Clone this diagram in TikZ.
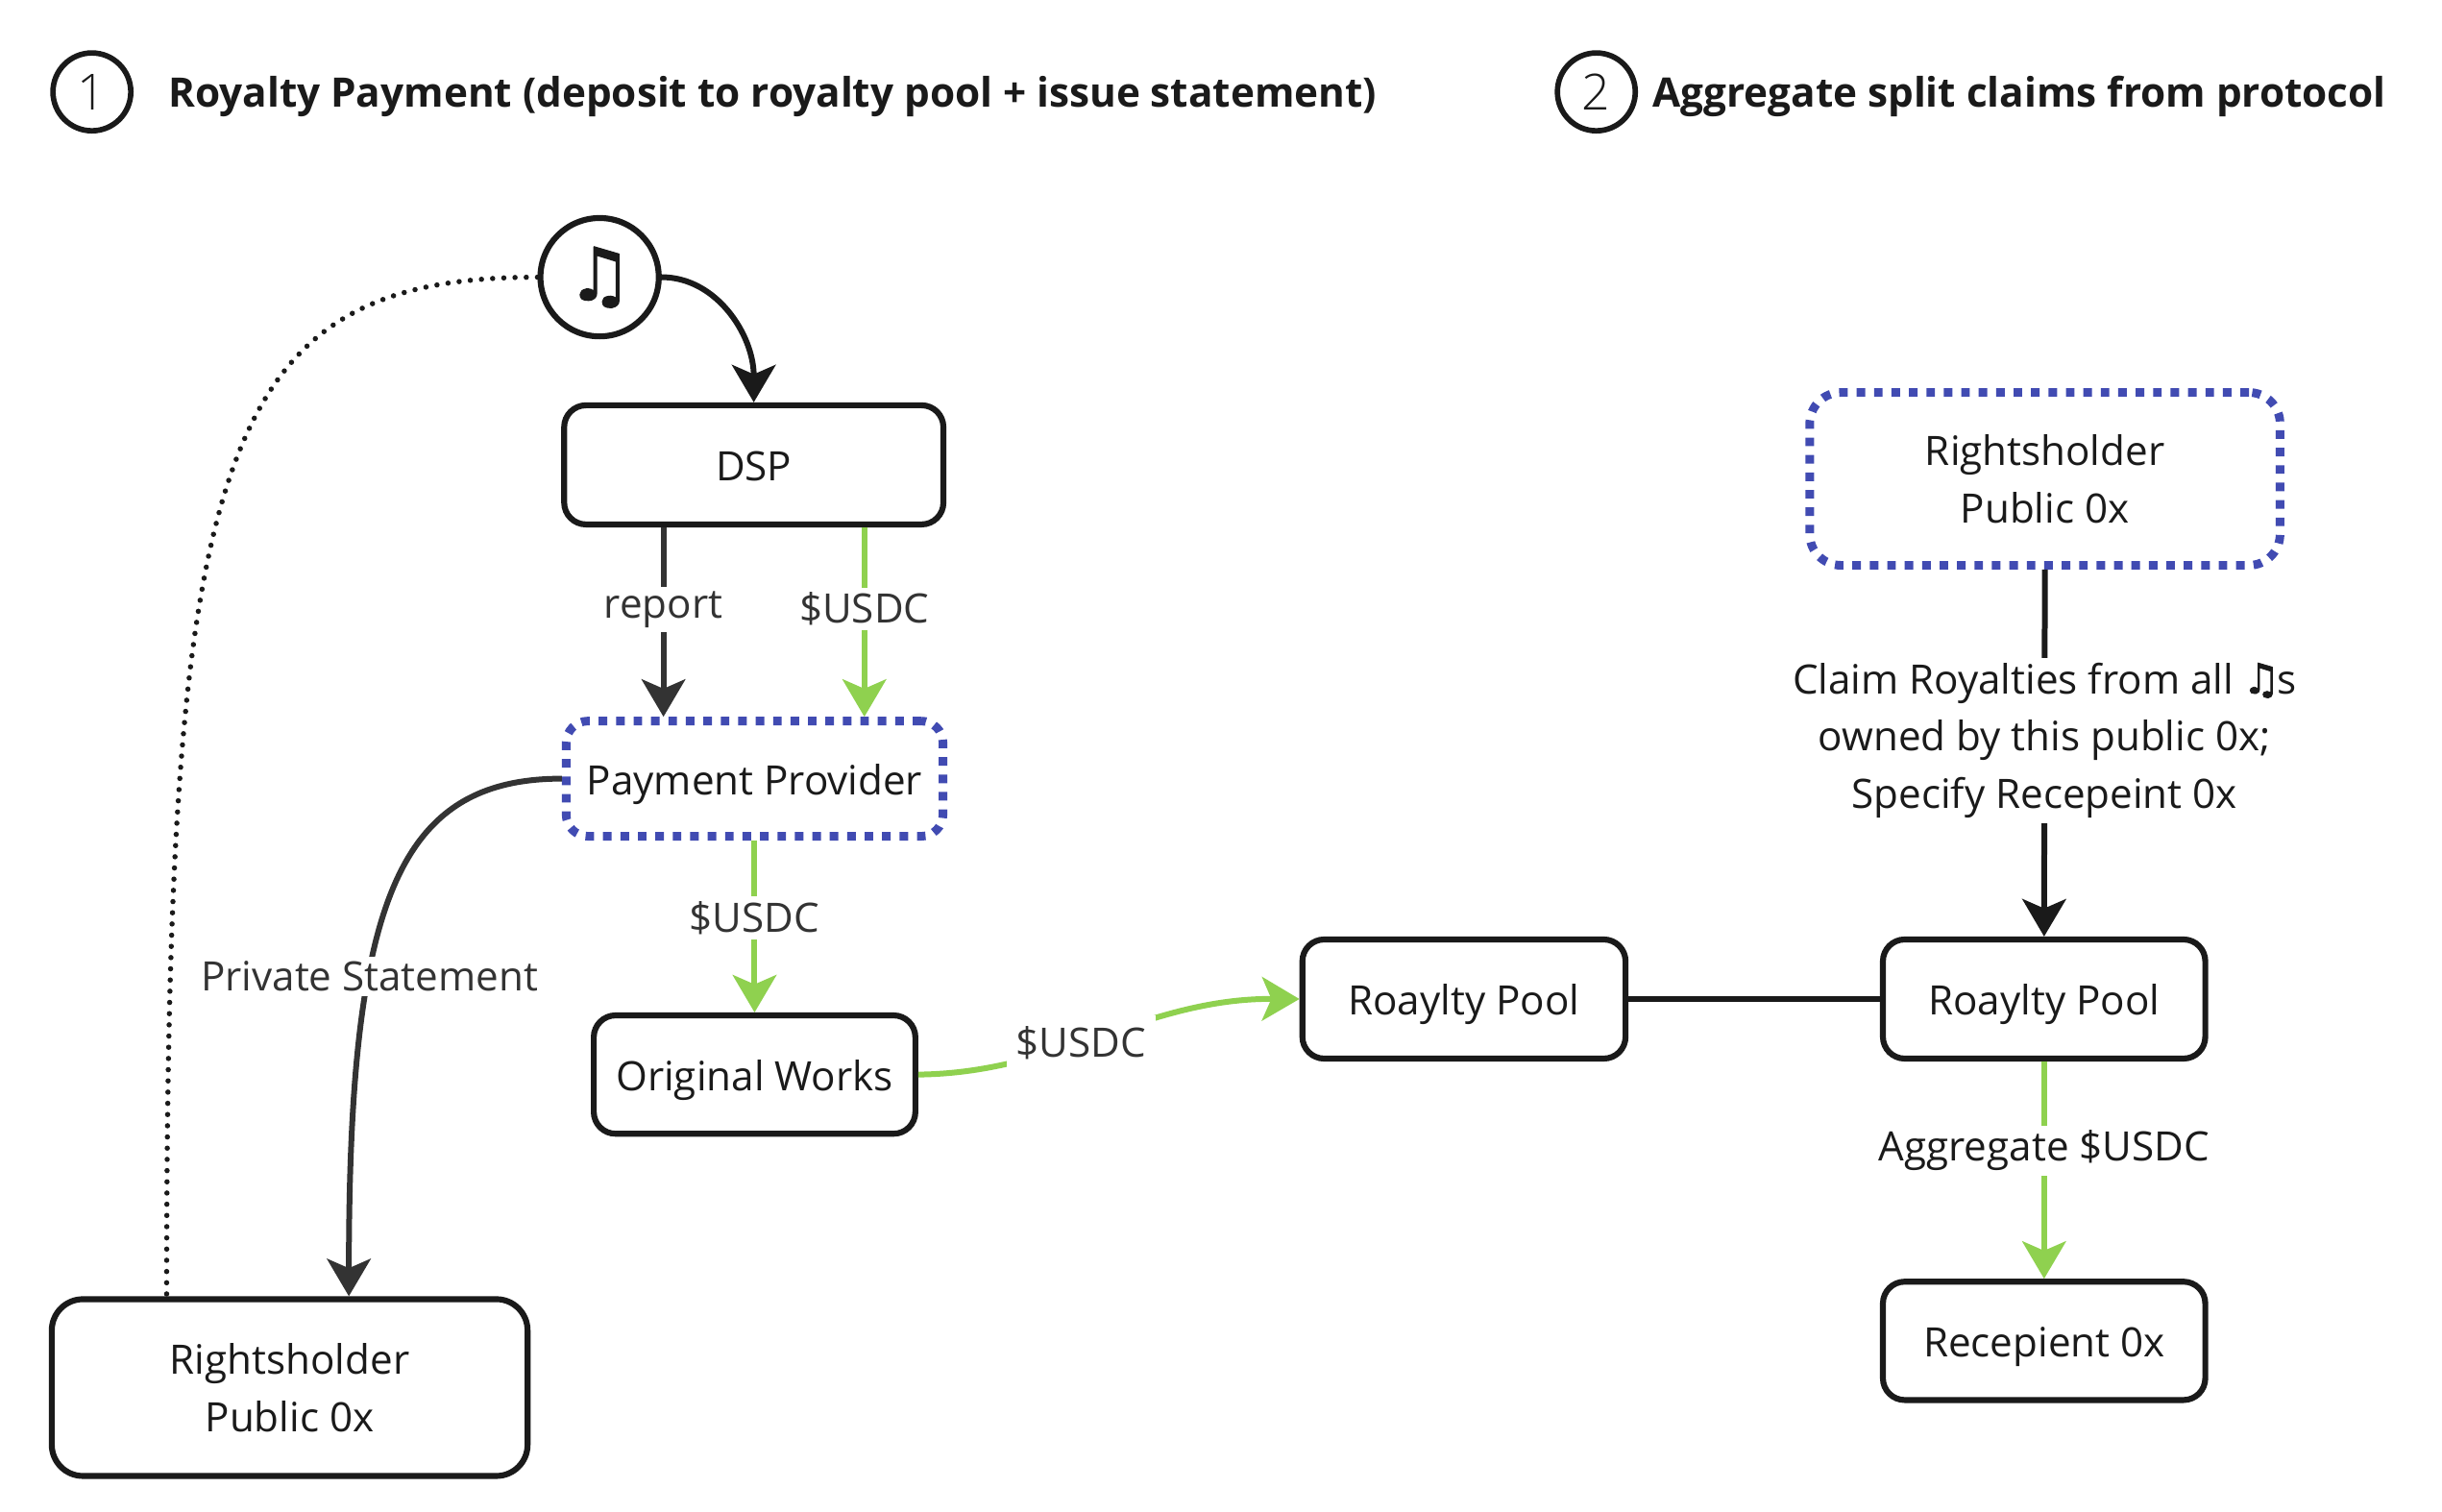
\documentclass[tikz,border=0pt]{standalone}
\usepackage{fontspec}
\setmainfont{Open Sans}
\newfontfamily\symf[FakeBold=1.6]{DejaVu Sans}
\newfontfamily\lightf{Open Sans Light}
\usetikzlibrary{arrows.meta,calc}
\definecolor{ink}{HTML}{1A1A1A}
\definecolor{dk}{HTML}{333333}
\definecolor{grn}{HTML}{8FD14F}
\definecolor{blu}{HTML}{414BB2}
\tikzset{
  x=1pt,y=-1pt,
  box/.style={draw=ink,line width=3.8pt,rounded corners=14pt,fill=white,text=ink,align=center,inner sep=0pt,
    font=\fontsize{26}{37}\selectfont},
  oneline/.style={text height=26pt,text depth=6pt},
  dotbox/.style={box,draw=blu,line width=5.5pt,dash pattern=on 5.5pt off 5.7pt},
  num/.style={circle,draw=ink,line width=3.5pt,minimum size=50pt,inner sep=0pt,text=ink,font=\lightf\fontsize{32}{32}\selectfont},
  head/.style={anchor=base west,inner sep=0pt,text=ink,font=\bfseries\fontsize{26.07}{32}\selectfont},
  lbl/.style={fill=white,inner xsep=6pt,inner ysep=3pt,text=dk,align=center,font=\fontsize{26}{37}\selectfont},
  lblk/.style={lbl,text=ink},
  arr/.style={-{Stealth[length=24pt,width=28pt,inset=6pt]},line width=3.7pt},
  blackline/.style={draw=ink},
  darkline/.style={draw=dk},
  greenline/.style={draw=grn},
}
\begin{document}
\begin{tikzpicture}
\useasboundingbox (0,0) rectangle (1568,970.4);
\fill[white] (0,0) rectangle (1568,970.4);
\node[num] (n1) at (59,59) {1};
\node[num] (n2) at (1025,59) {2};
\node[head] (h1) at (108,69) {Royalty Payment (deposit to royalty pool + issue statement)};
\node[head] (h2) at (1061,69) {Aggregate split claims from protocol};

\node[circle,draw=ink,line width=3.8pt,minimum size=76pt,inner sep=0pt,text=ink,font=\symf\fontsize{47}{47}\selectfont] (music) at (385,178) {\raisebox{-2pt}{♫}};
\node[box,oneline,minimum width=243.5pt,minimum height=76.5pt] (dsp) at (484,298.5) {DSP};
\node[dotbox,oneline,minimum width=242pt,minimum height=74pt,text height=27pt] (pay) at (484.5,500) {\textcolor{ink}{Payment Provider}};
\node[box,oneline,minimum width=206.5pt,minimum height=76pt,text height=27pt] (orig) at (484.5,690) {Original Works};
\node[box,minimum width=305.5pt,minimum height=113.5pt,rounded corners=20pt,yshift=-1pt] (rl) at (186,890) {Rightsholder\\Public 0x};
\node[box,oneline,minimum width=207.5pt,minimum height=76.5pt] (p1) at (940,641.5) {Roaylty Pool};
\node[box,oneline,minimum width=207pt,minimum height=76.5pt] (p2) at (1312.5,641.5) {Roaylty Pool};
\node[box,oneline,minimum width=207pt,minimum height=76pt] (rec) at (1312.5,861) {Recepient 0x};
\node[dotbox,minimum width=302pt,minimum height=111pt,rounded corners=20pt,yshift=-1pt] (rr) at (1313,306.5) {Rightsholder\\Public 0x};

\coordinate (repa) at ($(dsp.south)+(-58,0)$);
\coordinate (repb) at ($(pay.north)+(-58.5,0)$);
\coordinate (usda) at ($(dsp.south)+(71,0)$);
\coordinate (usdb) at ($(pay.north)+(70.5,0)$);
\coordinate (rlt) at ($(rl.north)+(-79,0)$);
\coordinate (rlu) at ($(rl.north)+(38,0)$);

\draw[blackline,arr] (music.east) .. controls (460,178) and (484,215) .. (dsp.north);
\draw[draw=ink,line width=3.4pt,line cap=round,dash pattern=on 0pt off 7.2pt] (music.west) .. controls (140,178) and (107,290) .. (rlt);
\draw[darkline,arr] (repa) -- node[lbl,pos=.434] (lrep) {report} (repb);
\draw[greenline,arr,fill=grn] (usda) -- node[lbl,pos=.43] (lus1) {\$USDC} (usdb);
\draw[greenline,arr] (pay.south) -- node[lbl,pos=.45] (lus2) {\$USDC} (orig.north);
\draw[darkline,arr] (pay.west) .. controls (255,500) and (224,580) .. node[lbl,pos=.65] (lps) {Private Statement} (rlu);
\draw[greenline,arr] (orig.east) .. controls (680,689) and (735,641) .. node[lbl,pos=.435,inner ysep=7pt] (lus3) {\$USDC} (p1.west);
\draw[blackline,line width=3.7pt] (p1.east) -- (p2.west);
\draw[blackline,arr] (rr.south) -- node[lblk,pos=.466] (lclaim) {Claim Royalties from all {\symf\fontsize{27}{27}\selectfont\kern-1pt ♫\kern-2pt}s\\owned by this public 0x;\\Specify Recepeint 0x} (p2.north);
\draw[greenline,arr] (p2.south) -- node[lblk,pos=.41] (lagg) {Aggregate \$USDC} (rec.north);
\end{tikzpicture}
\end{document}
